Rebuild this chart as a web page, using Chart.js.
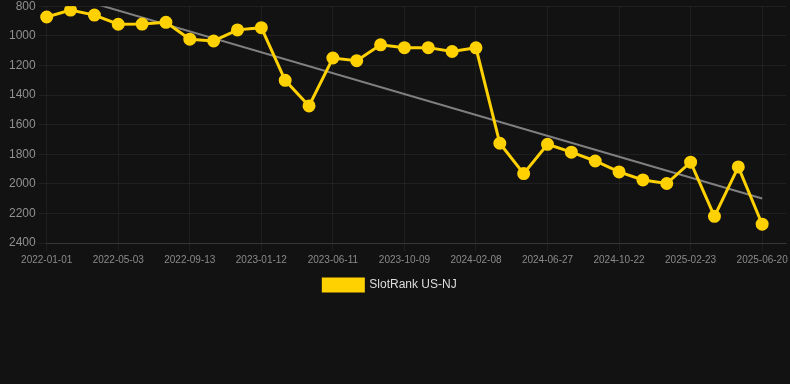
<!DOCTYPE html>
<html>
<head>
<meta charset="utf-8">
<script src="https://cdn.jsdelivr.net/npm/chart.js@4/dist/chart.umd.min.js"></script>
<style>
  html, body { margin: 0; padding: 0; background: #121212; width: 790px; height: 384px; overflow: hidden; }
  #wrap { position: relative; width: 794px; height: 305px; margin-top: -4px; }
</style>
</head>
<body>
<div id="wrap"><canvas id="c"></canvas></div>
<script>
const categories = [
  "2022-01-01","2022-02-10","2022-03-22","2022-05-03","2022-06-16","2022-07-30",
  "2022-09-13","2022-10-23","2022-12-02","2023-01-12","2023-03-01","2023-04-20",
  "2023-06-11","2023-07-20","2023-08-30","2023-10-09","2023-11-20","2023-12-30",
  "2024-02-08","2024-03-24","2024-05-10","2024-06-27","2024-08-05","2024-09-13",
  "2024-10-22","2024-12-01","2025-01-12","2025-02-23","2025-03-31","2025-05-12",
  "2025-06-20","2025-08-01"
];
const tickLabels = [
  "2022-01-01","2022-05-03","2022-09-13","2023-01-12","2023-06-11","2023-10-09",
  "2024-02-08","2024-06-27","2024-10-22","2025-02-23","2025-06-20"
];
const rankValues = [
  873, 826, 860, 922, 921, 909, 1023, 1035, 960, 945,
  1301, 1474, 1150, 1168, 1061, 1080, 1080, 1106, 1081,
  1726, 1931, 1733, 1786, 1846, 1920, 1974, 1998, 1854, 2220, 1886, 2273
];
const trendEnds = [688, 2099];

const trendData = categories.map(() => null);
trendData[0] = trendEnds[0];
trendData[rankValues.length - 1] = trendEnds[1];

const shiftLegend = {
  id: 'shiftLegend',
  afterLayout(chart) {
    const l = chart.legend;
    if (l) { l.left -= 10; l.right -= 10; }
  }
};

new Chart(document.getElementById('c'), {
  type: 'line',
  data: {
    labels: categories,
    datasets: [
      {
        label: 'SlotRank US-NJ',
        data: rankValues,
        borderColor: '#FFD100',
        backgroundColor: '#FFD100',
        borderWidth: 3,
        pointRadius: 5,
        pointHoverRadius: 5,
        pointBackgroundColor: '#FFD100',
        pointBorderColor: '#FFD100',
        tension: 0
      },
      {
        label: 'trend',
        data: trendData,
        borderColor: 'rgba(140,140,140,0.9)',
        borderWidth: 2,
        pointRadius: 0,
        spanGaps: true,
        tension: 0
      }
    ]
  },
  plugins: [shiftLegend],
  options: {
    responsive: true,
    maintainAspectRatio: false,
    animation: false,
    layout: { padding: { left: 6, right: 0, top: 0, bottom: 0 } },
    plugins: {
      legend: {
        position: 'bottom',
        labels: {
          color: '#dddddd',
          font: { family: 'Liberation Sans, Arial, sans-serif', size: 12 },
          boxWidth: 40,
          boxHeight: 12,
          filter: (item) => item.text !== 'trend'
        }
      },
      tooltip: { enabled: false }
    },
    scales: {
      x: {
        offset: false,
        grid: { color: 'rgba(255,255,255,0.05)', tickLength: 8 },
        border: { color: 'rgba(255,255,255,0.1)' },
        ticks: {
          autoSkip: false,
          maxRotation: 0,
          color: '#8a8a8a',
          font: { family: 'Liberation Sans, Arial, sans-serif', size: 10 },
          callback: function(value, index) {
            const lbl = categories[index];
            return tickLabels.includes(lbl) ? lbl : null;
          }
        }
      },
      y: {
        reverse: true,
        min: 800,
        max: 2400,
        grid: { color: 'rgba(255,255,255,0.06)', tickLength: 8 },
        border: { display: false },
        ticks: {
          stepSize: 200,
          color: '#909090',
          font: { family: 'Liberation Sans, Arial, sans-serif', size: 12 },
          callback: (v) => String(v)
        }
      }
    }
  }
});
</script>
</body>
</html>
